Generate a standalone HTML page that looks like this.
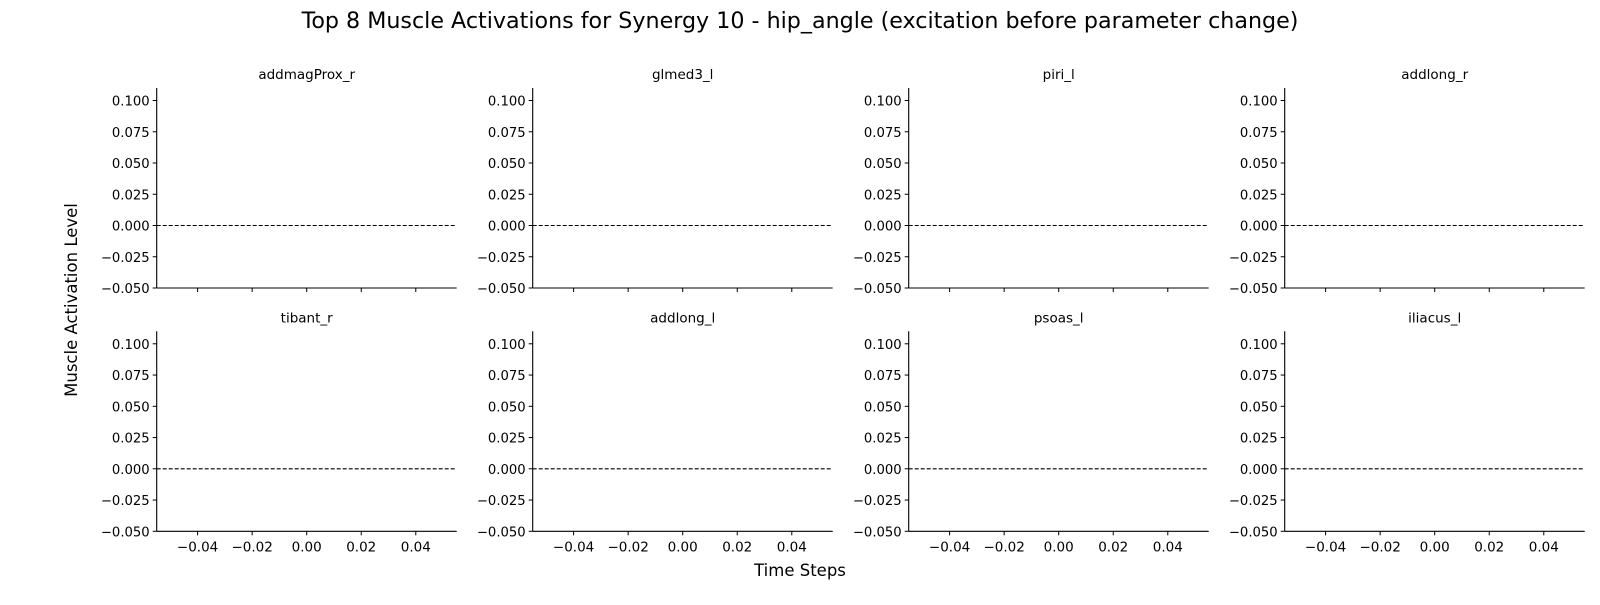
<!DOCTYPE html>
<html><head><meta charset="utf-8"><style>
body{margin:0;background:#fff}
svg text{font-family:"DejaVu Sans","Liberation Sans",sans-serif;fill:#000}
</style></head><body>
<svg id="fig" width="1600" height="600" xmlns="http://www.w3.org/2000/svg">
<text x="800" y="28" font-size="22.2" text-anchor="middle">Top 8 Muscle Activations for Synergy 10 - hip_angle (excitation before parameter change)</text>
<text transform="translate(77,300) rotate(-90)" font-size="16.5" text-anchor="middle">Muscle Activation Level</text>
<text x="800" y="576" font-size="16.5" text-anchor="middle">Time Steps</text>
</svg>
<script>
const muscles=["addmagProx_r","glmed3_l","piri_l","addlong_r","tibant_r","addlong_l","psoas_l","iliacus_l"];
const refValue=[0,0,0,0,0,0,0,0];
const yTicks=[0.100,0.075,0.050,0.025,0.000,-0.025,-0.050];
const xTicks=[-0.04,-0.02,0.00,0.02,0.04];
const yDomain=[-0.05,0.11];
const xDomain=[-0.055,0.055];
const NS="http://www.w3.org/2000/svg";
const fig=document.getElementById('fig');
function mk(tag,attrs,parent){const e=document.createElementNS(NS,tag);for(const k in attrs)e.setAttribute(k,attrs[k]);parent.appendChild(e);return e;}
const colX=[156.7,532.7,908.7,1284.7], rowTop=[88,331.3], W=300, H=200;
function fmtY(v){const s=Math.abs(v).toFixed(3);return (v<-1e-9?'\u2212':'')+s;}
function fmtX(v){const s=Math.abs(v).toFixed(2);return (v<-1e-9?'\u2212':'')+s;}
muscles.forEach((m,i)=>{
  const x0=colX[i%4], y0=rowTop[Math.floor(i/4)];
  const sx=v=>x0+(v-xDomain[0])/(xDomain[1]-xDomain[0])*W;
  const sy=v=>y0+H-(v-yDomain[0])/(yDomain[1]-yDomain[0])*H;
  const g=mk('g',{},fig);
  
  
  const t=mk('text',{x:x0+W/2,y:y0-9,'font-size':13.5,'text-anchor':'middle'},g);
  t.textContent=m;
  
  
  yTicks.forEach(v=>{
    const y=sy(v);
    const tk=mk('line',{x1:x0-4,x2:x0,y1:y,y2:y,stroke:'#000','stroke-width':1},g);
    
    
    const l=mk('text',{x:x0-7,y:y+5,'font-size':13.2,'text-anchor':'end'},g);
    l.textContent=fmtY(v);
    
    
  });
  xTicks.forEach(v=>{
    const x=sx(v);
    const tk=mk('line',{x1:x,x2:x,y1:y0+H,y2:y0+H+4,stroke:'#000','stroke-width':1},g);
    
    
    if(i>=4){
      const l=mk('text',{x:x,y:y0+H+20,'font-size':13.5,'text-anchor':'middle'},g);
      l.textContent=fmtX(v);
      
      
    }
  });
  const ref=mk('line',{x1:x0,x2:x0+W,y1:sy(refValue[i]),y2:sy(refValue[i]),stroke:'#000','stroke-width':1.1,'stroke-dasharray':'4,2'},g);
  
  
  const ya=mk('line',{x1:x0,x2:x0,y1:y0,y2:y0+H,stroke:'#000','stroke-width':1.1},g);
  
  
  const xa=mk('line',{x1:x0,x2:x0+W,y1:y0+H,y2:y0+H,stroke:'#000','stroke-width':1.1},g);
  
  
});
</script>
</body></html>
